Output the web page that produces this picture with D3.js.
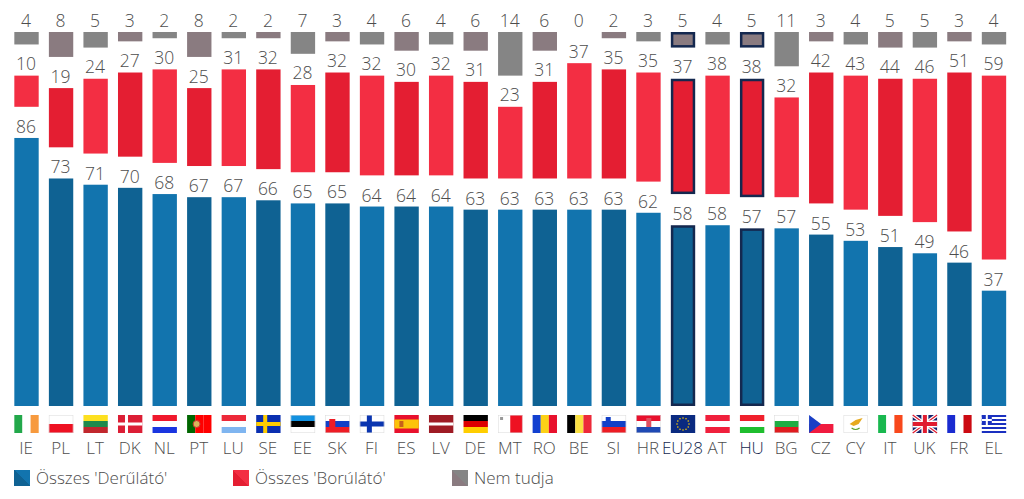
<!DOCTYPE html>
<html>
<head>
<meta charset="utf-8">
<script src="https://cdn.jsdelivr.net/npm/d3@7"></script>
<style>
  html, body { margin: 0; padding: 0; background: #fff; }
  text { font-family: "Open Sans", sans-serif; font-weight: 300; fill: #4d4d4d; }
</style>
</head>
<body>
<div id="chart"></div>
<script>
const countries = ['IE','PL','LT','DK','NL','PT','LU','SE','EE','SK','FI','ES','LV','DE','MT','RO','BE','SI','HR','EU28','AT','HU','BG','CZ','CY','IT','UK','FR','EL'];
const optimistic = [86,73,71,70,68,67,67,66,65,65,64,64,64,63,63,63,63,63,62,58,58,57,57,55,53,51,49,46,37];
const pessimistic = [10,19,24,27,30,25,31,32,28,32,32,30,32,31,23,31,37,35,35,37,38,38,32,42,43,44,46,51,59];
const dontKnow = [4,8,5,3,2,8,2,2,7,3,4,6,4,6,14,6,0,2,3,5,4,5,11,3,4,5,5,3,4];
const highlighted = ['EU28','HU'];
const legendLabels = ["Összes 'Derűlátó'", "Összes 'Borúlátó'", 'Nem tudja'];

// gap between the blue and the red part, in chart units
const spacer = 10;
const axisMax = 120;

const blues = ['#1274ae', '#0f6293'];
const reds = ['#f32e43', '#e41e32'];
const greys = ['#858585', '#8a7b80'];
const navy = '#14284f';

// simple striped flags: [direction, colours]
const stripes = {
  IE: ['v', ['#22a84a','#fff','#f79a3e']],
  PL: ['h', ['#fff','#ee1122']],
  LT: ['h', ['#fde020','#1f8a4c','#c1272d']],
  NL: ['h', ['#f0182c','#fff','#1a35e0']],
  PT: ['v', ['#006600','#ff0000','#ff0000']],
  LU: ['h', ['#ed2939','#fff','#7fb5f0']],
  EE: ['h', ['#1291e0','#000','#fff']],
  SK: ['h', ['#fff','#1240c8','#ee1c25']],
  ES: ['h', ['#e8112d']],
  LV: ['h', ['#9e1b24']],
  DE: ['h', ['#000','#dd0000','#ffce00']],
  MT: ['v', ['#fff','#ee1122']],
  RO: ['v', ['#1240d0','#fcd116','#e8112d']],
  BE: ['v', ['#000','#fae042','#ed2939']],
  SI: ['h', ['#fff','#1240c8','#ed1c24']],
  HR: ['h', ['#e8112d','#fff','#1f49b4']],
  EU28: ['h', ['#0a2a80']],
  AT: ['h', ['#f0203c','#fff','#f0203c']],
  HU: ['h', ['#f0202c','#fff','#1fbe2e']],
  BG: ['h', ['#fff','#1fae43','#e01c1f']],
  CZ: ['h', ['#fff','#f01b3f']],
  CY: ['h', ['#fff']],
  IT: ['v', ['#19b84f','#fff','#f8481c']],
  UK: ['h', ['#14246e']],
  FR: ['v', ['#1a2bd0','#fff','#cc0a12']],
  EL: ['h', ['#1a30c0','#fff','#1a30c0','#fff','#1a30c0','#fff','#1a30c0','#fff','#1a30c0']],
  DK: ['h', ['#dc1e35']],
  SE: ['h', ['#0a2fb0']],
  FI: ['h', ['#fff']]
};

const width = 1024;
const height = 499;

const svg = d3.select('#chart').append('svg')
  .attr('width', width)
  .attr('height', height)
  .style('display', 'block');

const x = d3.scaleBand().domain(countries).range([9.25, 1011.25]).paddingInner(0.295).paddingOuter(0.147);
const y = d3.scaleLinear().domain([0, axisMax]).range([406, 32]);
const units = (v) => y(0) - y(v);

const rows = countries.map((c, i) => ({
  c, i,
  blue: optimistic[i],
  red: pessimistic[i],
  grey: dontKnow[i],
  on: highlighted.includes(c)
}));

// frame of the highlighted bars sits inside the bar
function drawBars(cls, yFn, hFn, fillFn) {
  svg.selectAll('.' + cls).data(rows.filter((d) => hFn(d) > 0)).enter().append('rect')
    .attr('class', cls)
    .attr('x', (d) => x(d.c) + (d.on ? 1.25 : 0))
    .attr('y', (d) => yFn(d) + (d.on ? 1.25 : 0))
    .attr('width', (d) => x.bandwidth() - (d.on ? 2.5 : 0))
    .attr('height', (d) => hFn(d) - (d.on ? 2.5 : 0))
    .attr('fill', fillFn)
    .attr('stroke', (d) => d.on ? navy : 'none')
    .attr('stroke-width', (d) => d.on ? 2.5 : 0);
}

drawBars('blue', (d) => y(d.blue), (d) => units(d.blue), (d) => blues[d.i % 2]);
drawBars('red', (d) => y(d.blue + spacer + d.red), (d) => units(d.red), (d) => reds[d.i % 2]);
drawBars('grey', () => y(axisMax), (d) => units(d.grey), (d) => greys[d.i % 2]);

// value labels
function drawLabels(cls, yFn, textFn) {
  svg.selectAll('.' + cls).data(rows).enter().append('text')
    .attr('class', cls)
    .attr('x', (d) => x(d.c) + x.bandwidth() / 2 - 0.5)
    .attr('y', yFn)
    .attr('text-anchor', 'middle')
    .attr('font-size', 17.5)
    .text(textFn);
}
drawLabels('lbl-blue', (d) => y(d.blue) - 5, (d) => d.blue);
drawLabels('lbl-red', (d) => y(d.blue + spacer + d.red) - 5.5, (d) => d.red);
drawLabels('lbl-grey', () => y(axisMax) - 5.5, (d) => d.grey);

// flags
const fw = x.bandwidth();
const fh = 18;
const fy = 415;
const flags = svg.selectAll('.flag').data(rows).enter().append('g')
  .attr('class', 'flag')
  .attr('transform', (d) => `translate(${x(d.c)},${fy})`);

flags.each(function(d) {
  const g = d3.select(this);
  const [dir, cols] = stripes[d.c];
  const s = d3.scaleBand().domain(d3.range(cols.length)).range([0, dir === 'v' ? fw : fh]);
  g.selectAll('rect').data(cols).enter().append('rect')
    .attr('x', (c, i) => dir === 'v' ? s(i) : 0)
    .attr('y', (c, i) => dir === 'v' ? 0 : s(i))
    .attr('width', dir === 'v' ? s.bandwidth() : fw)
    .attr('height', dir === 'v' ? fh : s.bandwidth())
    .attr('fill', (c) => c);

  const bar = (bx, by, bw, bh, fill) => g.append('rect').attr('x', bx).attr('y', by).attr('width', bw).attr('height', bh).attr('fill', fill);
  if (d.c === 'DK') { bar(7, 0, 3, fh, '#fff'); bar(0, 7.5, fw, 3, '#fff'); }
  if (d.c === 'SE') { bar(7, 0, 4, fh, '#fecc00'); bar(0, 7, fw, 4, '#fecc00'); }
  if (d.c === 'FI') { bar(7, 0, 5, fh, '#0a35b0'); bar(0, 6.5, fw, 5, '#0a35b0'); }
  if (d.c === 'LV') { bar(0, 7.5, fw, 3, '#fff'); }
  if (d.c === 'ES') { bar(0, 4.5, fw, 9, '#fcc30b'); bar(5, 6, 4, 6, '#c8601a'); }
  if (d.c === 'EL') { bar(0, 0, 10, 10, '#1a30c0'); bar(4, 0, 2, 10, '#fff'); bar(0, 4, 10, 2, '#fff'); }
  if (d.c === 'CZ') g.append('path').attr('d', `M0,0L12,${fh / 2}L0,${fh}Z`).attr('fill', '#1a3fc5');
  if (d.c === 'PT') { g.append('circle').attr('cx', 9.5).attr('cy', 9).attr('r', 3.5).attr('fill', '#d8b85a').attr('stroke', '#c33').attr('stroke-width', 1); }
  if (d.c === 'SK') { bar(4, 4, 6, 8, '#ee1c25'); }
  if (d.c === 'SI') { bar(4, 2, 5, 5, '#1240c8'); }
  if (d.c === 'HR') { bar(10, 3, 5, 9, '#e05060'); }
  if (d.c === 'MT') { bar(2, 2, 3, 3, '#999'); }
  if (d.c === 'CY') { g.append('path').attr('d', 'M6,9L12,5L19,3L15,9L10,11Z').attr('fill', '#e6a91e'); g.append('path').attr('d', 'M8,13Q12,16 16,13').attr('fill', 'none').attr('stroke', '#5aa02c').attr('stroke-width', 1.2); }
  if (d.c === 'EU28') {
    g.selectAll('circle').data(d3.range(12)).enter().append('circle')
      .attr('cx', (k) => fw / 2 + 6 * Math.cos(k * Math.PI / 6))
      .attr('cy', (k) => fh / 2 + 6 * Math.sin(k * Math.PI / 6))
      .attr('r', 0.8).attr('fill', '#fc0');
  }
  if (d.c === 'UK') {
    g.append('path').attr('d', `M0,0L${fw},${fh}M${fw},0L0,${fh}`).attr('stroke', '#fff').attr('stroke-width', 3.5);
    g.append('path').attr('d', `M0,0L${fw},${fh}M${fw},0L0,${fh}`).attr('stroke', '#e01c2f').attr('stroke-width', 1.2);
    bar(fw / 2 - 3.5, 0, 7, fh, '#fff'); bar(0, fh / 2 - 3.5, fw, 7, '#fff');
    bar(fw / 2 - 2, 0, 4, fh, '#e01c2f'); bar(0, fh / 2 - 2, fw, 4, '#e01c2f');
  }
  // pale outline for flags with a white edge
  if (['PL','EE','FI','MT','SI','BG','CY','SK','HR'].includes(d.c)) {
    g.append('rect').attr('x', 0.25).attr('y', 0.25).attr('width', fw - 0.5).attr('height', fh - 0.5)
      .attr('fill', 'none').attr('stroke', '#d9d9d9').attr('stroke-width', 0.5);
  }
});

// country labels
svg.selectAll('.country').data(rows).enter().append('text')
  .attr('class', 'country')
  .attr('x', (d) => x(d.c) + x.bandwidth() / 2 - 0.5)
  .attr('y', 454)
  .attr('text-anchor', 'middle')
  .attr('font-size', 17)
  .style('fill', (d) => d.on ? navy : '#4d4d4d')
  .text((d) => d.c);

// legend with the diagonal shading of the original
const defs = svg.append('defs');
const legendCols = [blues, reds, greys];
legendCols.forEach((cols, i) => {
  const grad = defs.append('linearGradient').attr('id', 'leg' + i)
    .attr('x1', 0).attr('y1', 1).attr('x2', 1).attr('y2', 0);
  grad.append('stop').attr('offset', '50%').attr('stop-color', cols[1]);
  grad.append('stop').attr('offset', '50%').attr('stop-color', cols[0]);
});
const legendX = d3.scalePoint().domain(legendLabels).range([14, 452]);
const leg = svg.selectAll('.legend').data(legendLabels).enter().append('g')
  .attr('class', 'legend')
  .attr('transform', (d) => `translate(${legendX(d)},470)`);
leg.append('rect').attr('width', 16).attr('height', 16).attr('fill', (d, i) => `url(#leg${i})`);
leg.append('text').attr('x', 22).attr('y', 14).attr('font-size', 17).text((d) => d);
</script>
</body>
</html>
